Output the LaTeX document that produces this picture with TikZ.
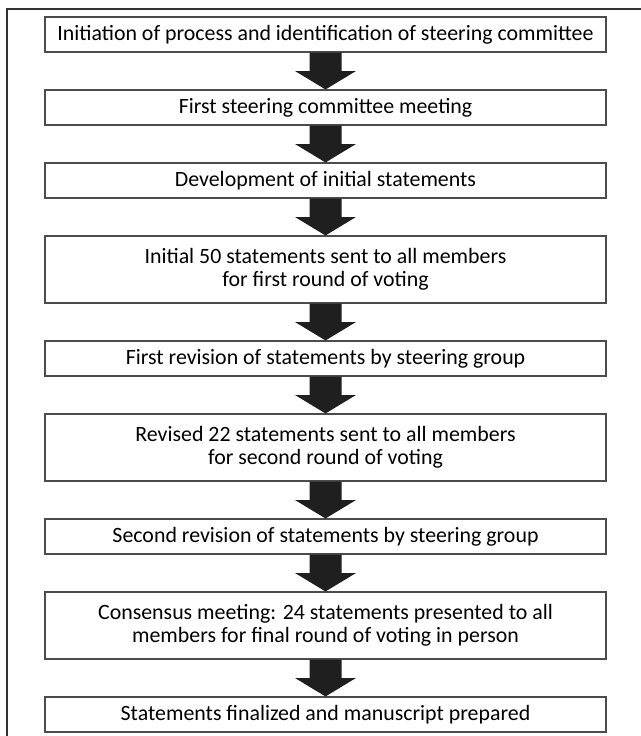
\documentclass[tikz,border=0pt]{standalone}
\usepackage{fontspec}
\setmainfont{Carlito}
\usetikzlibrary{calc}

\tikzset{
  stepbox/.style={draw=black!70, line width=0.8pt, fill=white,
    minimum width=420.75pt, align=center, inner sep=0pt,
    font=\fontsize{16.4}{17.5}\selectfont},
  onebox/.style={stepbox, minimum height=26.25pt},
  twobox/.style={stepbox, minimum height=50.25pt},
  blockarrow/.style={fill=black!88}
}

% thick down arrow from box #1 to box #2
\newcommand{\flowarrow}[2]{%
  \fill[blockarrow] ($(#1.south)+(-16,0)$) -- ($(#1.south)+(16,0)$)
    -- ($(#1.south)!0.5!(#2.north)+(16,0)$) -- ($(#1.south)!0.5!(#2.north)+(30.5,0)$)
    -- (#2.north)
    -- ($(#1.south)!0.5!(#2.north)+(-30.5,0)$) -- ($(#1.south)!0.5!(#2.north)+(-16,0)$)
    -- cycle;}

\begin{document}
\begin{tikzpicture}[x=0.75pt, y=-0.75pt]

        \def\xmid{325.5}
        \useasboundingbox (0,0) rectangle (641,736);

        % outer frame (open at right and bottom)
        \draw[black!80, line width=0.8pt] (7,736) -- (7,9) -- (641,9);

        \node[onebox] (init)   at (\xmid,34.5)  {Initiation of process and identification of steering committee};
        \node[onebox] (meet)   at (\xmid,107.5) {First steering committee meeting};
        \node[onebox] (devel)  at (\xmid,180.5) {Development of initial statements};
        \node[twobox] (vote1)  at (\xmid,269.5) {Initial 50 statements sent to all members\\for first round of voting};
        \node[onebox] (rev1)   at (\xmid,358.5) {First revision of statements by steering group};
        \node[twobox] (vote2)  at (\xmid,447.5) {Revised 22 statements sent to all members\\for second round of voting};
        \node[onebox] (rev2)   at (\xmid,536.5) {Second revision of statements by steering group};
        \node[twobox] (cons)   at (\xmid,625.5) {Consensus meeting: 24 statements presented to all\\members for final round of voting in person};
        \node[onebox] (final)  at (\xmid,714.5) {Statements finalized and manuscript prepared};

        \flowarrow{init}{meet}
        \flowarrow{meet}{devel}
        \flowarrow{devel}{vote1}
        \flowarrow{vote1}{rev1}
        \flowarrow{rev1}{vote2}
        \flowarrow{vote2}{rev2}
        \flowarrow{rev2}{cons}
        \flowarrow{cons}{final}

\end{tikzpicture}
\end{document}
